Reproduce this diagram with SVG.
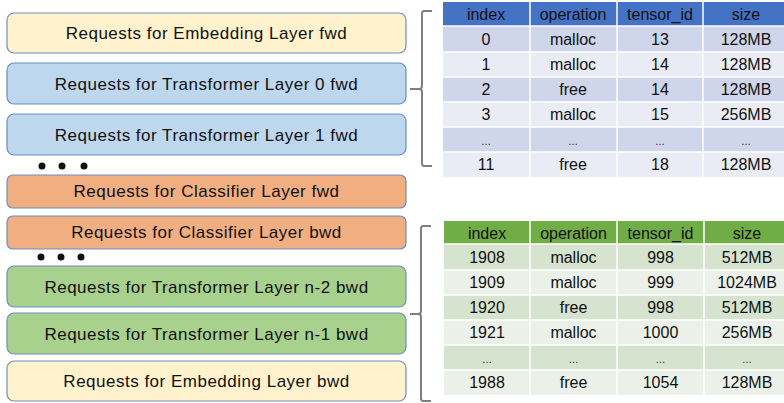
<svg xmlns="http://www.w3.org/2000/svg" width="784" height="403" viewBox="0 0 784 403">
<style>
.box{stroke:#6C8EBF;stroke-width:1.2}
.yel{fill:#FFF2CC}
.blu{fill:#BDD7EE}
.org{fill:#F1AE81}
.grn{fill:#A9D18E}
.lbl{font-family:"Liberation Sans","Open Sans",sans-serif;font-size:17px;letter-spacing:0.5px;fill:#111;text-anchor:middle;dominant-baseline:central}
.cell{font-family:"Liberation Sans","Open Sans",sans-serif;font-size:16px;fill:#111;text-anchor:middle;dominant-baseline:central}
.dot{fill:#111}
.brace{fill:none;stroke:#7F7F7F;stroke-width:2}
.gl{stroke:#fff;stroke-width:1.5}
</style>
<g id="nodes">
<g id="n-emb-fwd"><rect class="box yel" x="7" y="13" width="399" height="40" rx="7"/><text class="lbl" x="206.5" y="33">Requests for Embedding Layer fwd</text></g>
<g id="n-tf0-fwd"><rect class="box blu" x="7" y="63" width="399" height="41" rx="7"/><text class="lbl" x="206.5" y="84">Requests for Transformer Layer 0 fwd</text></g>
<g id="n-tf1-fwd"><rect class="box blu" x="7" y="114" width="399" height="41" rx="7"/><text class="lbl" x="206.5" y="135">Requests for Transformer Layer 1 fwd</text></g>
<g id="dots1"><circle class="dot" cx="42" cy="166" r="3.5"/><circle class="dot" cx="62" cy="166" r="3.5"/><circle class="dot" cx="84" cy="166" r="3.5"/></g>
<g id="n-cls-fwd"><rect class="box org" x="7" y="175" width="399" height="33" rx="6"/><text class="lbl" x="206.5" y="191.5">Requests for Classifier Layer fwd</text></g>
<g id="n-cls-bwd"><rect class="box org" x="7" y="216" width="399" height="33" rx="6"/><text class="lbl" x="206.5" y="232.5">Requests for Classifier Layer bwd</text></g>
<g id="dots2"><circle class="dot" cx="41" cy="257" r="3.5"/><circle class="dot" cx="61" cy="257" r="3.5"/><circle class="dot" cx="81" cy="257" r="3.5"/></g>
<g id="n-tfn2-bwd"><rect class="box grn" x="7" y="266" width="399" height="41" rx="7"/><text class="lbl" x="206.5" y="287">Requests for Transformer Layer n-2 bwd</text></g>
<g id="n-tfn1-bwd"><rect class="box grn" x="7" y="313" width="399" height="41" rx="7"/><text class="lbl" x="206.5" y="334">Requests for Transformer Layer n-1 bwd</text></g>
<g id="n-emb-bwd"><rect class="box yel" x="7" y="361" width="399" height="40" rx="7"/><text class="lbl" x="206.5" y="381">Requests for Embedding Layer bwd</text></g>
</g>
<g id="connectors">
<path class="brace" d="M432,11 L424,11 Q422,11 422,14 L422,86 Q422,89 419,89 L410,89 M419,89 Q422,89 422,92 L422,163 Q422,166 424,166 L432,166"/>
<path class="brace" d="M431,226 L423,226 Q421,226 421,229 L421,311 Q421,314 418,314 L410,314 M418,314 Q421,314 421,317 L421,398 Q421,401 423,401 L431,401"/>
</g>
<g id="table-fwd">
<rect x="443" y="2" width="341" height="24" fill="#4472C4"/>
<rect x="443" y="26" width="341" height="26" fill="#CFD5EA"/>
<rect x="443" y="52" width="341" height="25" fill="#E9EBF5"/>
<rect x="443" y="77" width="341" height="25" fill="#CFD5EA"/>
<rect x="443" y="102" width="341" height="25" fill="#E9EBF5"/>
<rect x="443" y="127" width="341" height="25" fill="#CFD5EA"/>
<rect x="443" y="152" width="341" height="25" fill="#E9EBF5"/>
<g class="gl"><line x1="443" y1="26" x2="784" y2="26"/><line x1="443" y1="52" x2="784" y2="52"/><line x1="443" y1="77" x2="784" y2="77"/><line x1="443" y1="102" x2="784" y2="102"/><line x1="443" y1="127" x2="784" y2="127"/><line x1="443" y1="152" x2="784" y2="152"/><line x1="530" y1="2" x2="530" y2="177"/><line x1="617" y1="2" x2="617" y2="177"/><line x1="703" y1="2" x2="703" y2="177"/></g>
<g class="cell">
<text x="486" y="14">index</text><text x="573" y="14">operation</text><text x="660" y="14">tensor_id</text><text x="746" y="14">size</text>
<text x="486" y="39">0</text><text x="573" y="39">malloc</text><text x="660" y="39">13</text><text x="746" y="39">128MB</text>
<text x="486" y="64.5">1</text><text x="573" y="64.5">malloc</text><text x="660" y="64.5">14</text><text x="746" y="64.5">128MB</text>
<text x="486" y="89.5">2</text><text x="573" y="89.5">free</text><text x="660" y="89.5">14</text><text x="746" y="89.5">128MB</text>
<text x="486" y="114.5">3</text><text x="573" y="114.5">malloc</text><text x="660" y="114.5">15</text><text x="746" y="114.5">256MB</text>
<text x="486" y="141" font-size="10">…</text><text x="573" y="141" font-size="10">…</text><text x="660" y="141" font-size="10">…</text><text x="746" y="141" font-size="10">…</text>
<text x="486" y="164.5">11</text><text x="573" y="164.5">free</text><text x="660" y="164.5">18</text><text x="746" y="164.5">128MB</text>
</g>
</g>
<g id="table-bwd">
<rect x="444" y="221" width="340" height="23" fill="#70AD47"/>
<rect x="444" y="244" width="340" height="26" fill="#D5E3CF"/>
<rect x="444" y="270" width="340" height="25" fill="#EBF1E9"/>
<rect x="444" y="295" width="340" height="25" fill="#D5E3CF"/>
<rect x="444" y="320" width="340" height="25" fill="#EBF1E9"/>
<rect x="444" y="345" width="340" height="25" fill="#D5E3CF"/>
<rect x="444" y="370" width="340" height="25" fill="#EBF1E9"/>
<g class="gl"><line x1="444" y1="244" x2="784" y2="244"/><line x1="444" y1="270" x2="784" y2="270"/><line x1="444" y1="295" x2="784" y2="295"/><line x1="444" y1="320" x2="784" y2="320"/><line x1="444" y1="345" x2="784" y2="345"/><line x1="444" y1="370" x2="784" y2="370"/><line x1="530" y1="221" x2="530" y2="395"/><line x1="617" y1="221" x2="617" y2="395"/><line x1="704" y1="221" x2="704" y2="395"/></g>
<g class="cell">
<text x="487" y="233">index</text><text x="573.5" y="233">operation</text><text x="660.5" y="233">tensor_id</text><text x="747" y="233">size</text>
<text x="487" y="257.5">1908</text><text x="573.5" y="257.5">malloc</text><text x="660.5" y="257.5">998</text><text x="747" y="257.5">512MB</text>
<text x="487" y="282.5">1909</text><text x="573.5" y="282.5">malloc</text><text x="660.5" y="282.5">999</text><text x="747" y="282.5">1024MB</text>
<text x="487" y="307.5">1920</text><text x="573.5" y="307.5">free</text><text x="660.5" y="307.5">998</text><text x="747" y="307.5">512MB</text>
<text x="487" y="332.5">1921</text><text x="573.5" y="332.5">malloc</text><text x="660.5" y="332.5">1000</text><text x="747" y="332.5">256MB</text>
<text x="487" y="359" font-size="10">…</text><text x="573.5" y="359" font-size="10">…</text><text x="660.5" y="359" font-size="10">…</text><text x="747" y="359" font-size="10">…</text>
<text x="487" y="382.5">1988</text><text x="573.5" y="382.5">free</text><text x="660.5" y="382.5">1054</text><text x="747" y="382.5">128MB</text>
</g>
</g>
</svg>
